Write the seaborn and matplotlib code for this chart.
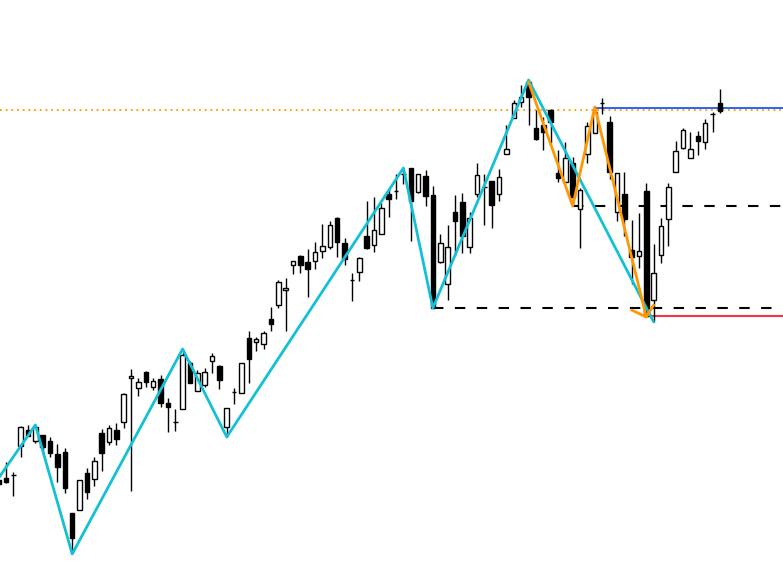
import numpy as np
import matplotlib
matplotlib.use("Agg")
import matplotlib.pyplot as plt
import pandas as pd
import seaborn as sns

# candle prices (index = bar number)
opens = [98, 100, 103, 132, 148, 137, 143, 137, 124, 126, 65, 68, 105, 99, 145, 136, 148, 156, 200, 190,
         206, 191, 199, 175, 156, 169, 215, 187, 193, 217, 212, 151, 186, 185, 240, 236, 234, 259, 273, 288,
         313, 322, 316, 317, 327, 331, 360, 335, 298, 306, 342, 333, 344, 384, 387, 404, 410, 386, 402, 383,
         316, 294, 366, 376, 331, 384, 391, 397, 384, 424, 460, 476, 496, 450, 453, 468, 405, 396, 415, 369,
         424, 445, 475, 456, 366, 384, 328, 322, 387, 278, 323, 359, 406, 430, 420, 442, 436, 464, 475]
highs = [103, 116, 106, 152, 153, 153, 143, 141, 134, 130, 65, 98, 110, 121, 149, 153, 155, 185, 209, 200,
         207, 200, 203, 180, 169, 229, 217, 208, 210, 225, 213, 170, 190, 215, 247, 241, 247, 271, 298, 300,
         317, 323, 329, 336, 354, 357, 361, 340, 305, 321, 377, 381, 375, 389, 404, 410, 410, 404, 408, 392,
         344, 353, 383, 385, 366, 415, 404, 397, 409, 453, 478, 493, 498, 468, 461, 469, 428, 436, 421, 390,
         456, 471, 480, 462, 405, 406, 358, 365, 395, 334, 360, 395, 437, 450, 446, 447, 459, 466, 489]
lows = [85, 95, 82, 121, 142, 135, 125, 121, 96, 85, 24, 68, 79, 92, 107, 133, 133, 150, 87, 182,
        191, 188, 171, 146, 147, 169, 195, 187, 191, 205, 189, 141, 174, 185, 195, 227, 229, 247, 270, 247,
        304, 305, 281, 309, 320, 329, 321, 313, 277, 297, 329, 326, 344, 361, 379, 394, 337, 385, 372, 270,
        315, 278, 322, 325, 325, 381, 353, 350, 377, 424, 460, 471, 453, 438, 428, 435, 396, 396, 372, 330,
        415, 445, 464, 399, 357, 342, 294, 310, 262, 256, 315, 332, 406, 429, 420, 423, 429, 446, 465]
closes = [94, 96, 103, 151, 142, 151, 131, 125, 111, 90, 40, 98, 86, 117, 125, 150, 139, 184, 202, 196,
          196, 197, 175, 171, 156, 223, 195, 205, 206, 222, 198, 170, 186, 215, 219, 239, 245, 254, 296, 290,
          317, 313, 309, 326, 332, 353, 336, 319, 298, 320, 330, 348, 370, 379, 387, 404, 377, 404, 382, 270,
          335, 331, 357, 342, 360, 403, 391, 373, 401, 429, 475, 481, 481, 439, 446, 456, 400, 420, 381, 388,
          452, 466, 475, 406, 405, 359, 321, 327, 262, 305, 352, 391, 427, 448, 429, 437, 455, 464, 467]

# zigzag pivots (bar, price)
zz_main_bar = [0, 5, 10, 25, 31, 55, 59, 72, 89]
zz_main_price = [100, 153, 24, 229, 141, 410, 270, 498, 256]
zz_sub_bar = [72, 78, 81, 88, 89]
zz_sub_price = [496, 372, 471, 261, 273]
zz_tail_bar = [86, 88]
zz_tail_price = [268, 261]

# horizontal levels (start bar, price)
dotted_level = 468
blue_start, blue_level = 81, 470.5
dash_levels = [(59, 270), (78, 372)]
red_start, red_level = 88, 262

df = pd.DataFrame({"open": opens, "high": highs, "low": lows, "close": closes})
df["bar"] = np.arange(len(df))
df["up"] = df["close"] >= df["open"]

sns.set_style("white")
fig = plt.figure(figsize=(7.83, 5.78), dpi=100)
ax = fig.add_axes([0, 0, 1, 1])
ax.set_axis_off()

x_lo, x_hi = 0.19, 106.57
ax.set_xlim(x_lo, x_hi)
ax.set_ylim(0, 578)

# levels
ax.axhline(dotted_level, color="#FF9800", lw=1.3, linestyle=(0, (1, 2.15)), dash_capstyle="butt", zorder=1)
ax.hlines(blue_level, blue_start, x_hi, color="#2962FF", lw=1.4, zorder=1)
for start, lvl in dash_levels:
    ax.hlines(lvl, start, x_hi, color="black", lw=1.5, linestyles=[(0, (5, 5.5))], zorder=1)
ax.hlines(red_level, red_start, x_hi, color="#F23645", lw=1.5, zorder=1)

# candles
ax.vlines(df["bar"], df["low"], df["high"], color="black", lw=1.0, zorder=2)
bottoms = np.minimum(df["open"], df["close"])
heights = (df["close"] - df["open"]).abs()
face = np.where(df["up"], "white", "black")
ax.bar(df["bar"], heights, bottom=bottoms, width=0.62, color=face, edgecolor="black", linewidth=1.0, zorder=3)

# zigzags
sns.lineplot(x=zz_main_bar, y=zz_main_price, sort=False, color="#13C0D6", lw=2.0, ax=ax, zorder=4)
sns.lineplot(x=zz_sub_bar, y=zz_sub_price, sort=False, color="#FF9800", lw=2.0, ax=ax, zorder=5)
sns.lineplot(x=zz_tail_bar, y=zz_tail_price, sort=False, color="#FF9800", lw=2.0, ax=ax, zorder=5)

ax.set_xlim(x_lo, x_hi)
ax.set_ylim(0, 578)
fig.savefig("out.png", dpi=100)
